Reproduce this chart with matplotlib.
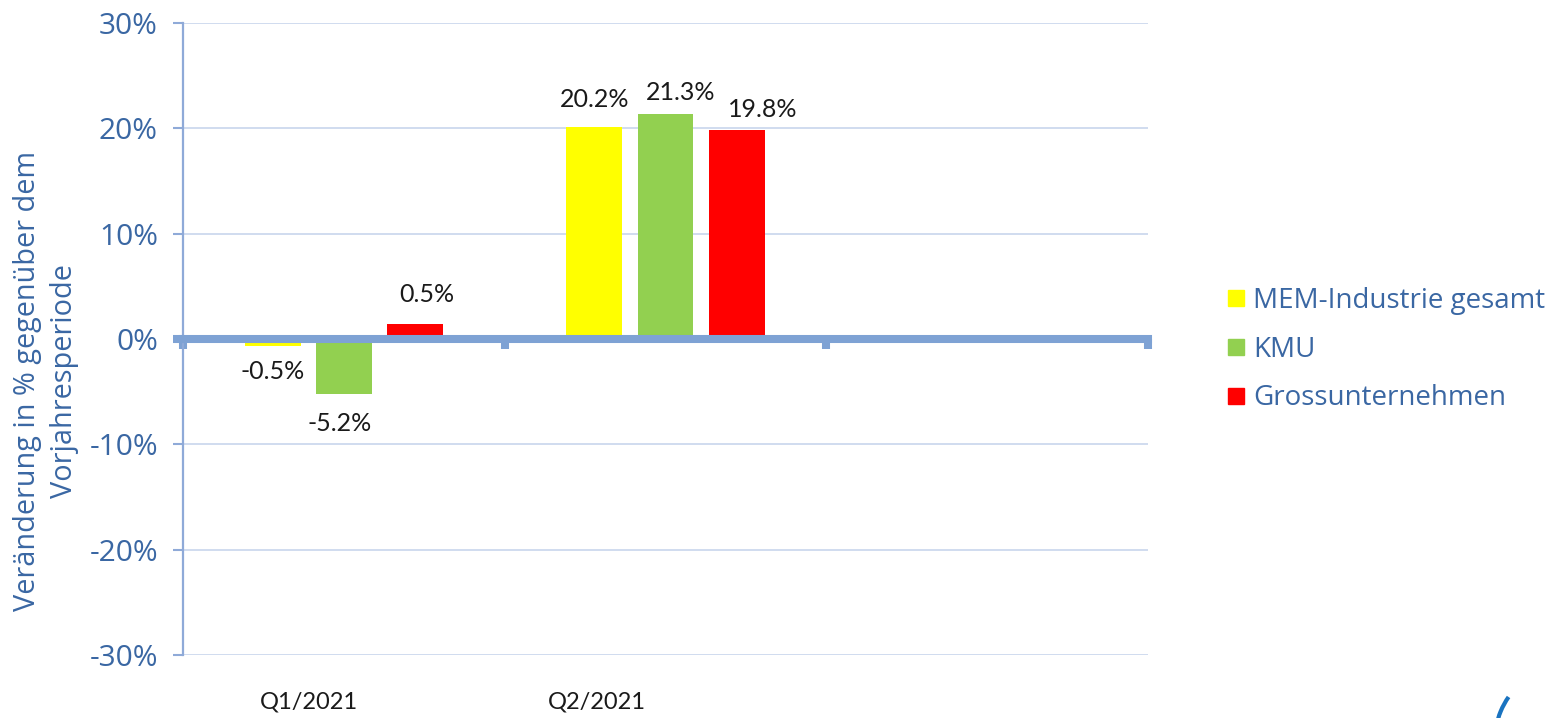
import matplotlib
matplotlib.use("Agg")
import matplotlib.pyplot as plt
from matplotlib.lines import Line2D
from matplotlib.patches import Arc
import numpy as np

# data
categories = ["Q1/2021", "Q2/2021", ""]
series = ["MEM-Industrie gesamt", "KMU", "Grossunternehmen"]
colors = ["#FFFF00", "#92D050", "#FF0000"]
values = {
    "MEM-Industrie gesamt": [-0.7, 20.1],
    "KMU": [-5.2, 21.4],
    "Grossunternehmen": [1.4, 19.8],
}
labels = {
    "MEM-Industrie gesamt": ["-0.5%", "20.2%"],
    "KMU": ["-5.2%", "21.3%"],
    "Grossunternehmen": ["0.5%", "19.8%"],
}
# label offsets in pixels (the source chart had hand-placed labels)
label_offsets = {
    "MEM-Industrie gesamt": [(0, -25), (0, 28)],
    "KMU": [(-4, -30), (15, 21)],
    "Grossunternehmen": [(12, 30), (26, 21)],
}
yticks = [-30, -20, -10, 0, 10, 20, 30]

blue_txt = "#3A67A3"
axis_col = "#7EA2D4"
spine_col = "#8FAAD8"
grid_col = "#C8D5EC"

fig = plt.figure(figsize=(15.61, 7.18), dpi=100)
ax = fig.add_axes([183 / 1561, 1 - 655 / 718, 965 / 1561, 632 / 718])

slot = np.arange(len(categories))
step = 0.221
width = 0.174
for i, s in enumerate(series):
    xs = slot[:len(values[s])] + (i - 1) * step
    bars = ax.bar(xs, values[s], width=width, color=colors[i], zorder=2)
    for b, lab, (dx, dy) in zip(bars, labels[s], label_offsets[s]):
        ax.annotate(lab, (b.get_x() + b.get_width() / 2, b.get_height()),
                    xytext=(dx, dy), textcoords="offset pixels",
                    ha="center", va="center", fontsize=18, family="Lato",
                    color="#1a1a1a")

ax.set_xlim(-0.5, len(categories) - 0.5)
ax.set_ylim(-30, 30)
ax.set_yticks(yticks)
ax.set_yticklabels([f"{t}%" for t in yticks], family="Open Sans", fontsize=21.5, color=blue_txt)
ax.yaxis.grid(True, color=grid_col, linewidth=1.2, zorder=0)
ax.set_axisbelow(True)
ax.tick_params(axis="y", length=7, width=1.5, color=spine_col, pad=11)

for sp in ["top", "right"]:
    ax.spines[sp].set_visible(False)
ax.spines["left"].set_color(spine_col)
ax.spines["left"].set_linewidth(1.6)
ax.spines["bottom"].set_position(("data", 0))
ax.spines["bottom"].set_color(axis_col)
ax.spines["bottom"].set_linewidth(5.8)
ax.spines["bottom"].set_zorder(3)
ax.set_xticks(np.arange(len(categories) + 1) - 0.5)
ax.set_xticklabels([])
ax.tick_params(axis="x", length=7.2, width=5.8, color=axis_col)
ax.plot([-0.5 - 10 / 321.5, -0.5], [0, 0], color=axis_col, lw=5.8,
        solid_capstyle="butt", clip_on=False, zorder=3)

# category labels sit low, below the plot area
cat_x = [-0.108, 0.788]
for cx, c in zip(cat_x, categories):
    ax.text(cx, -0.075, c, transform=ax.get_xaxis_transform(), ha="center",
            va="center", fontsize=17, family="Lato", color="#1a1a1a")

fig.text(46 / 1561, 1 - 381 / 718, "Veränderung in % gegenüber dem\nVorjahresperiode",
         rotation=90, ha="center", va="center", multialignment="center",
         fontsize=20.8, family="Open Sans", color=blue_txt, linespacing=1.4)

handles = [Line2D([], [], marker="s", linestyle="none", markersize=12.2,
                  markerfacecolor=c, markeredgecolor=c) for c in colors]
fig.legend(handles, series, loc="upper left",
           bbox_to_anchor=(1227.6 / 1561, 1 - 287 / 718),
           frameon=False, borderpad=0, borderaxespad=0,
           handlelength=0.64, handletextpad=0.28, labelspacing=0.745,
           prop={"family": "Open Sans", "size": 20}, labelcolor=blue_txt)

# corner of a logo at bottom right
fig.add_artist(Arc((15.70, -0.22), 1.5, 1.5, theta1=145, theta2=170,
                   transform=fig.dpi_scale_trans, color="#1A73C0", lw=3))

fig.savefig("out.png", dpi=100)
